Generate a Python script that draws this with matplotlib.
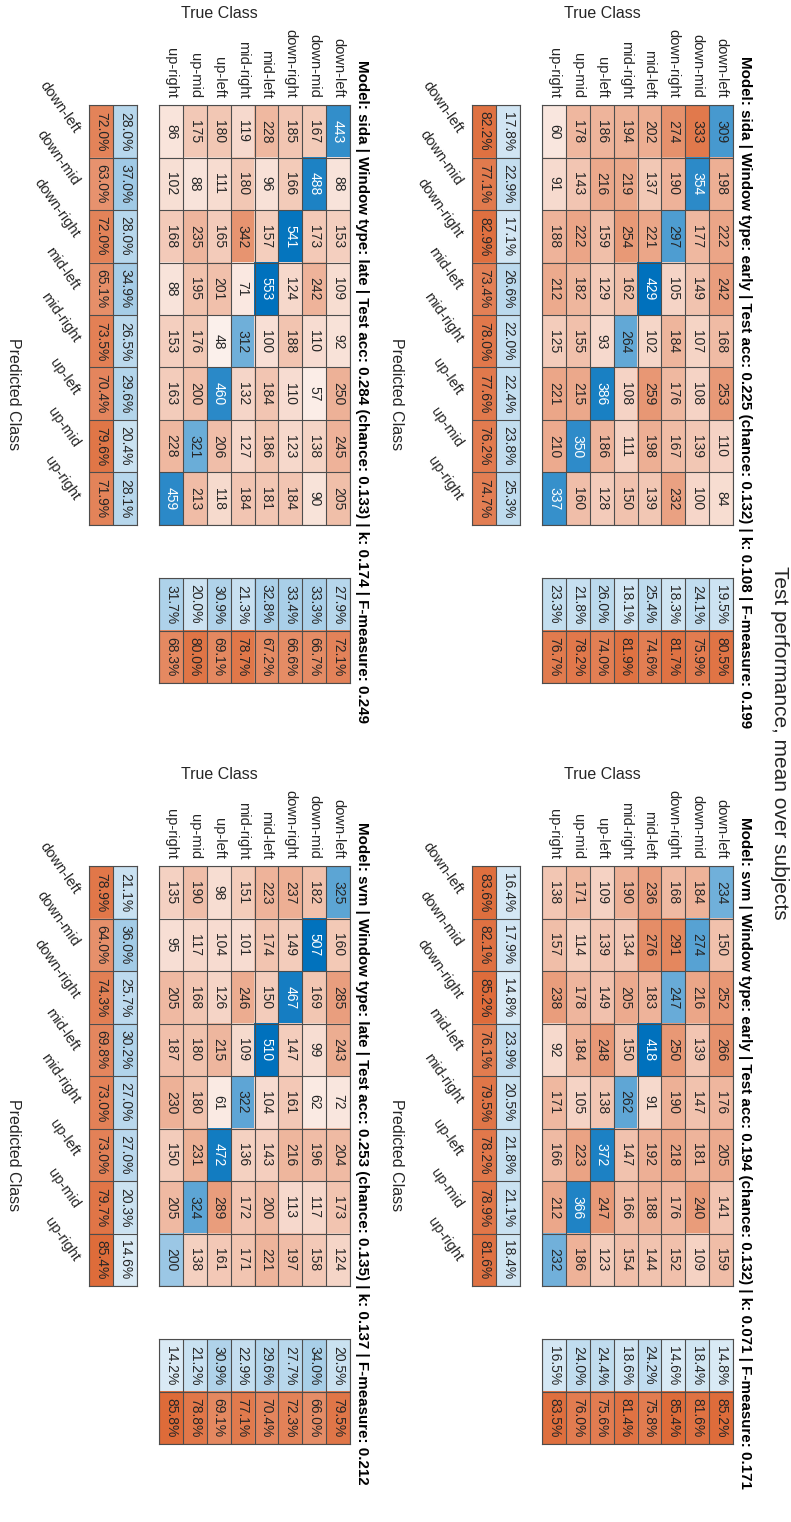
import numpy as np
import matplotlib.pyplot as plt

plt.rcParams['font.family'] = ['Liberation Sans', 'DejaVu Sans']

CLASSES = ['down-left', 'down-mid', 'down-right', 'mid-left',
           'mid-right', 'up-left', 'up-mid', 'up-right']

# confusion matrices: rows = true class, columns = predicted class
sida_early = [[309, 198, 222, 242, 168, 253, 110, 84],
              [333, 354, 177, 149, 107, 108, 139, 100],
              [274, 190, 297, 105, 184, 176, 167, 232],
              [202, 137, 221, 429, 102, 259, 198, 139],
              [194, 219, 254, 162, 264, 108, 111, 150],
              [186, 216, 159, 129, 93, 386, 186, 128],
              [178, 143, 222, 182, 155, 215, 350, 160],
              [60, 91, 188, 212, 125, 221, 210, 337]]

sida_late = [[443, 88, 153, 109, 92, 250, 245, 205],
             [167, 488, 173, 242, 110, 57, 138, 90],
             [185, 166, 541, 124, 188, 110, 123, 184],
             [228, 96, 157, 553, 100, 184, 186, 181],
             [119, 180, 342, 71, 312, 132, 127, 184],
             [180, 111, 165, 201, 48, 460, 206, 118],
             [175, 88, 235, 195, 176, 200, 321, 213],
             [86, 102, 168, 88, 153, 163, 228, 459]]

svm_early = [[234, 150, 252, 266, 176, 205, 141, 159],
             [184, 274, 216, 139, 147, 181, 240, 109],
             [168, 291, 247, 250, 190, 218, 176, 152],
             [236, 276, 183, 418, 91, 192, 188, 144],
             [190, 134, 205, 150, 262, 147, 166, 154],
             [109, 139, 149, 248, 138, 372, 247, 123],
             [171, 114, 178, 184, 105, 223, 366, 186],
             [138, 157, 238, 92, 171, 166, 212, 232]]

svm_late = [[325, 160, 285, 243, 72, 204, 173, 124],
            [182, 507, 169, 99, 62, 196, 117, 158],
            [237, 149, 467, 147, 161, 216, 113, 197],
            [223, 174, 150, 510, 104, 143, 200, 221],
            [151, 101, 246, 109, 322, 136, 172, 171],
            [98, 104, 126, 215, 61, 472, 289, 161],
            [190, 117, 168, 180, 180, 231, 324, 138],
            [135, 95, 205, 187, 230, 150, 205, 200]]

# per-class correct rate in percent (recall per true class, precision per predicted class)
sida_early_recall = [19.5, 24.1, 18.3, 25.4, 18.1, 26.0, 21.8, 23.3]
sida_early_precision = [17.8, 22.9, 17.1, 26.6, 22.0, 22.4, 23.8, 25.3]
sida_late_recall = [27.9, 33.3, 33.4, 32.8, 21.3, 30.9, 20.0, 31.7]
sida_late_precision = [28.0, 37.0, 28.0, 34.9, 26.5, 29.6, 20.4, 28.1]
svm_early_recall = [14.8, 18.4, 14.6, 24.2, 18.6, 24.4, 24.0, 16.5]
svm_early_precision = [16.4, 17.9, 14.8, 23.9, 20.5, 21.8, 21.1, 18.4]
svm_late_recall = [20.5, 34.0, 27.7, 29.6, 22.9, 30.9, 21.2, 14.2]
svm_late_precision = [21.1, 36.0, 25.7, 30.2, 27.0, 27.0, 20.3, 14.6]

titles = ['Model: sida | Window type: early | Test acc: 0.225 (chance: 0.132) | k: 0.108 | F-measure: 0.199',
          'Model: sida | Window type: late | Test acc: 0.284 (chance: 0.133) | k: 0.174 | F-measure: 0.249',
          'Model: svm | Window type: early | Test acc: 0.194 (chance: 0.132) | k: 0.071 | F-measure: 0.171',
          'Model: svm | Window type: late | Test acc: 0.253 (chance: 0.135) | k: 0.137 | F-measure: 0.212']

W, H = 791, 1522
fig = plt.figure(figsize=(W / 100, H / 100), dpi=100)

BLUE = np.array([0, 114, 189]) / 255
ORANGE = np.array([217, 83, 25]) / 255
EDGE = '#4d4d4d'
TXT = '#262626'
CELL_FS = 10
LABEL_FS = 10.5


def add_ax(x0, y0, x1, y1):
    # pixel box (origin top-left) -> figure axes
    return fig.add_axes([x0 / W, 1 - y1 / H, (x1 - x0) / W, (y1 - y0) / H])


def ftext(x, y, s, **kw):
    fig.text(x / W, 1 - y / H, s, **kw)


def shade(base, t):
    return 1 - t * (1 - base)


def text_color(rgb):
    lum = 0.299 * rgb[0] + 0.587 * rgb[1] + 0.114 * rgb[2]
    return 'white' if lum < 0.5 else TXT


def grid_axes(ax, nrow, ncol):
    ax.set_xticks(np.arange(ncol + 1) - 0.5, minor=True)
    ax.set_yticks(np.arange(nrow + 1) - 0.5, minor=True)
    ax.grid(which='minor', color=EDGE, lw=0.8)
    ax.tick_params(which='both', length=0)
    for s in ax.spines.values():
        s.set_color(EDGE)
        s.set_linewidth(0.8)


def draw_panel(M, recall, precision, title, dx, dy):
    M = np.array(M)
    # chart is turned a quarter: true class runs right->left, predicted top->bottom
    D = np.rot90(M, -1)
    diag = np.rot90(np.eye(8, dtype=bool), -1)
    t = (D / D.max())[..., None]
    rgb = np.where(diag[..., None], shade(BLUE, t), shade(ORANGE, t))

    ax = add_ax(dx + 542, dy + 105, dx + 733, dy + 525)
    ax.imshow(rgb, aspect='auto', interpolation='nearest')
    for r in range(8):
        for c in range(8):
            ax.text(c, r, str(D[r, c]), rotation=-90, ha='center', va='center',
                    fontsize=CELL_FS, color=text_color(rgb[r, c]))
    grid_axes(ax, 8, 8)
    ax.set_xticks(range(8))
    ax.set_xticklabels(CLASSES[::-1], rotation=-90, fontsize=LABEL_FS, color=TXT)
    ax.xaxis.tick_top()
    ax.tick_params(axis='x', pad=5)
    ax.set_yticks([])

    # precision per predicted class
    prec = np.array(precision)
    rgbc = np.stack([shade(ORANGE, (100 - prec)[:, None] / 100),
                     shade(BLUE, prec[:, None] / 100)], axis=1)
    axc = add_ax(dx + 472, dy + 105, dx + 520, dy + 525)
    axc.imshow(rgbc, aspect='auto', interpolation='nearest')
    for j, p in enumerate(prec):
        axc.text(0, j, f'{100 - p:.1f}%', rotation=-90, ha='center', va='center',
                 fontsize=CELL_FS, color=text_color(rgbc[j, 0]))
        axc.text(1, j, f'{p:.1f}%', rotation=-90, ha='center', va='center',
                 fontsize=CELL_FS, color=text_color(rgbc[j, 1]))
    grid_axes(axc, 8, 2)
    axc.set_xticks([])
    axc.set_yticks(range(8))
    axc.set_yticklabels(CLASSES, fontsize=LABEL_FS, color=TXT)
    axc.tick_params(axis='y', pad=9)
    plt.setp(axc.get_yticklabels(), rotation=-55, rotation_mode='anchor',
             ha='right', va='center')

    # recall per true class
    rec = np.array(recall)[::-1]
    rgbr = np.stack([shade(BLUE, rec[:, None] / 100),
                     shade(ORANGE, (100 - rec)[:, None] / 100)], axis=0)
    axr = add_ax(dx + 542, dy + 578, dx + 733, dy + 683)
    axr.imshow(rgbr, aspect='auto', interpolation='nearest')
    for c, v in enumerate(rec):
        axr.text(c, 0, f'{v:.1f}%', rotation=-90, ha='center', va='center',
                 fontsize=CELL_FS, color=text_color(rgbr[0, c]))
        axr.text(c, 1, f'{100 - v:.1f}%', rotation=-90, ha='center', va='center',
                 fontsize=CELL_FS, color=text_color(rgbr[1, c]))
    grid_axes(axr, 2, 8)
    axr.set_xticks([])
    axr.set_yticks([])

    ftext(dx + (472 + 733) / 2, dy + 13, 'True Class', ha='center', va='center',
          fontsize=11.5, color=TXT)
    ftext(dx + 396, dy + 394, 'Predicted Class', rotation=-90, ha='center',
          va='center', fontsize=11.5, color=TXT)
    ftext(dx + 745, dy + 392, title, rotation=-90, ha='center', va='center',
          fontsize=10.9, fontweight='bold', color='black')


draw_panel(sida_early, sida_early_recall, sida_early_precision, titles[0], 0, 0)
draw_panel(sida_late, sida_late_recall, sida_late_precision, titles[1], -383, 0)
draw_panel(svm_early, svm_early_recall, svm_early_precision, titles[2], 0, 761)
draw_panel(svm_late, svm_late_recall, svm_late_precision, titles[3], -383, 761)

ftext(780, 743, 'Test performance, mean over subjects', rotation=-90,
      ha='center', va='center', fontsize=15, color=TXT)

fig.savefig('out.png', dpi=100)
